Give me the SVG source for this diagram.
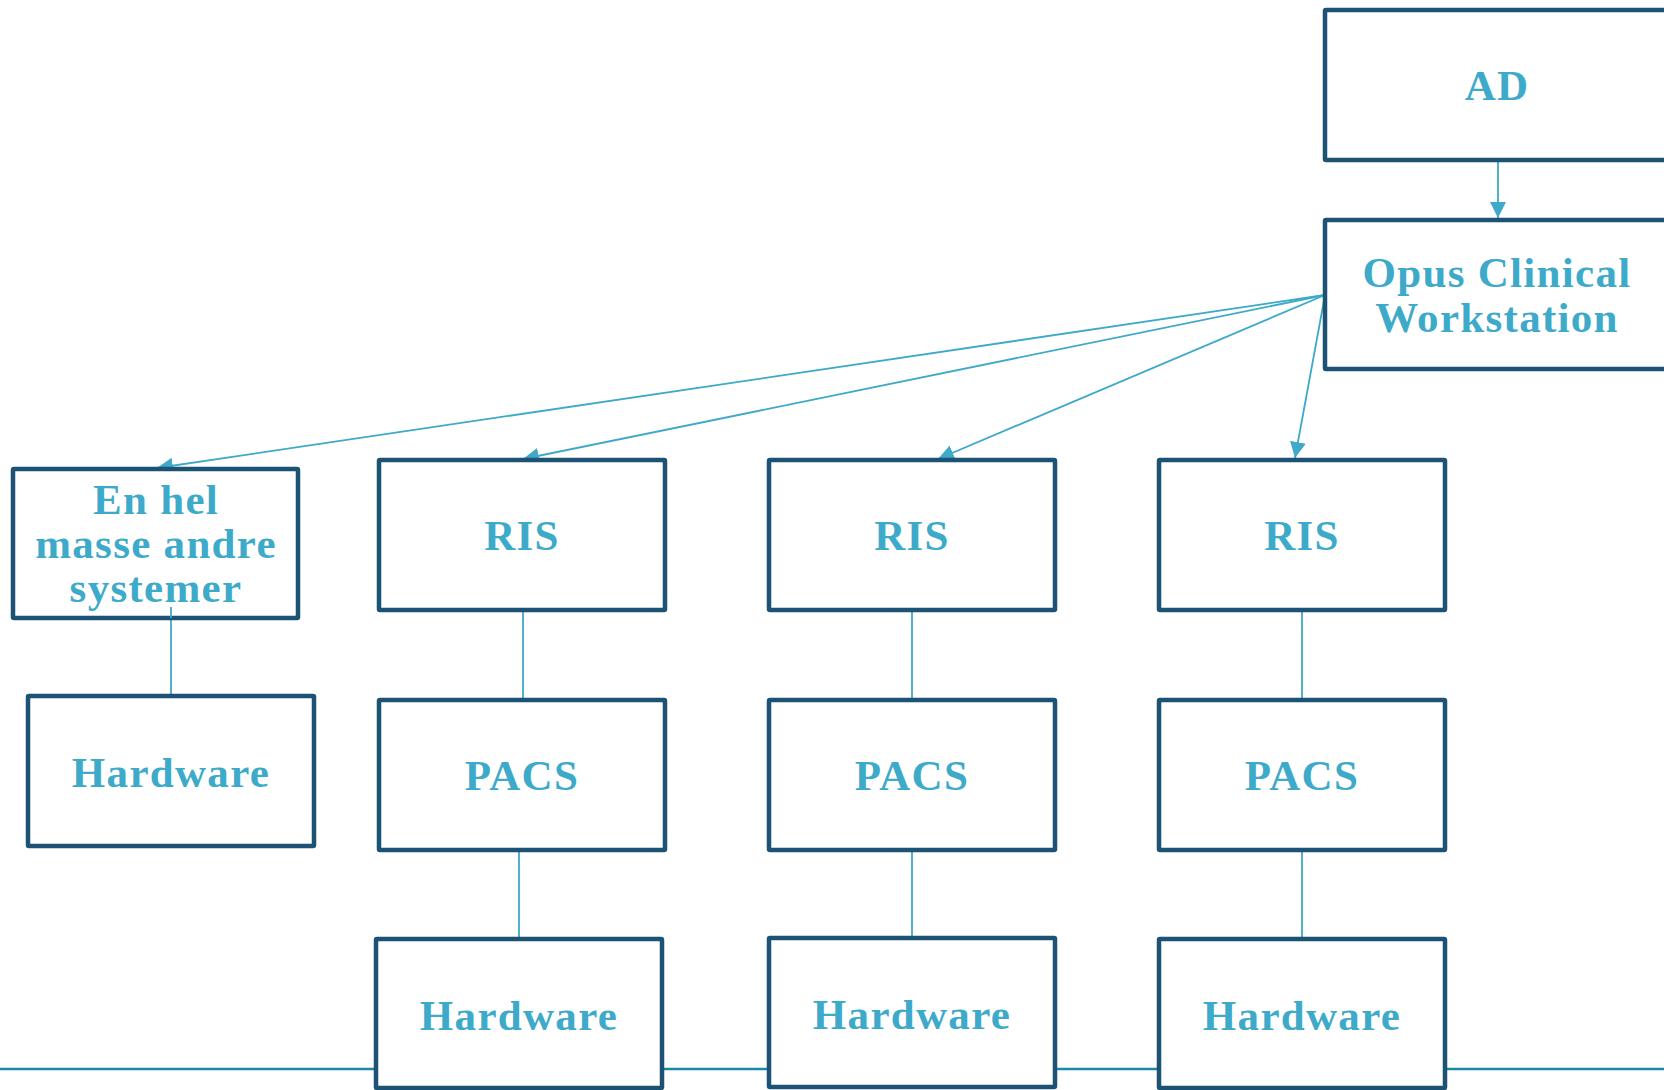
<svg xmlns="http://www.w3.org/2000/svg" width="1664" height="1090" viewBox="0 0 1664 1090">
<style>
.box{fill:#ffffff;stroke:#1c5273;stroke-width:4.5}
.lbl{font-family:"Liberation Serif","Times New Roman",serif;font-weight:bold;font-size:43px;fill:#3eaac9;text-anchor:middle;letter-spacing:1.3px}
.con{stroke:#3ea9c8;stroke-width:1.8;fill:none}
.base{stroke:#1a8aa2;stroke-width:2.5}
</style>
<defs>
<marker id="ah" markerUnits="userSpaceOnUse" markerWidth="17" markerHeight="17" refX="16" refY="8" orient="auto" viewBox="0 0 17 17">
<path d="M0,0 L16,8 L0,16 z" fill="#3ea9c8"/>
</marker>
</defs>
<rect width="1664" height="1090" fill="#ffffff"/>
<line class="base" x1="0" y1="1069" x2="1664" y2="1069"/>
<g id="connectors">
<line class="con" x1="1498" y1="160" x2="1498" y2="218" marker-end="url(#ah)"/>
<line class="con" x1="1325" y1="295" x2="157" y2="468" marker-end="url(#ah)"/>
<line class="con" x1="1325" y1="295" x2="523" y2="459" marker-end="url(#ah)"/>
<line class="con" x1="1325" y1="295" x2="938" y2="459" marker-end="url(#ah)"/>
<line class="con" x1="1325" y1="295" x2="1295" y2="458" marker-end="url(#ah)"/>
<line class="con" x1="171" y1="607" x2="171" y2="696"/>
<line class="con" x1="523" y1="610" x2="523" y2="700"/>
<line class="con" x1="519" y1="850" x2="519" y2="939"/>
<line class="con" x1="912" y1="610" x2="912" y2="700"/>
<line class="con" x1="912" y1="850" x2="912" y2="938"/>
<line class="con" x1="1302" y1="610" x2="1302" y2="700"/>
<line class="con" x1="1302" y1="850" x2="1302" y2="939"/>
</g>
<g id="ad"><rect class="box" x="1325" y="10" width="400" height="150" rx="1"/><text class="lbl" x="1497" y="100">AD</text></g>
<g id="opus"><rect class="box" x="1325" y="220" width="400" height="149" rx="1"/><text class="lbl" x="1497" y="287">Opus Clinical</text><text class="lbl" x="1497" y="332">Workstation</text></g>
<g id="andre"><rect class="box" x="13" y="469" width="285" height="149" rx="1"/><text class="lbl" x="156" y="514">En hel</text><text class="lbl" x="156" y="558">masse andre</text><text class="lbl" x="156" y="602">systemer</text></g>
<line class="con" x1="171" y1="607" x2="171" y2="618"/>
<g id="hw0"><rect class="box" x="28" y="696" width="286" height="150" rx="1"/><text class="lbl" x="171" y="787">Hardware</text></g>
<g id="ris1"><rect class="box" x="379" y="460" width="286" height="150" rx="1"/><text class="lbl" x="522" y="550">RIS</text></g>
<g id="pacs1"><rect class="box" x="379" y="700" width="286" height="150" rx="1"/><text class="lbl" x="522" y="790">PACS</text></g>
<g id="hw1"><rect class="box" x="376" y="939" width="286" height="149" rx="1"/><text class="lbl" x="519" y="1030">Hardware</text></g>
<g id="ris2"><rect class="box" x="769" y="460" width="286" height="150" rx="1"/><text class="lbl" x="912" y="550">RIS</text></g>
<g id="pacs2"><rect class="box" x="769" y="700" width="286" height="150" rx="1"/><text class="lbl" x="912" y="790">PACS</text></g>
<g id="hw2"><rect class="box" x="769" y="938" width="286" height="149" rx="1"/><text class="lbl" x="912" y="1029">Hardware</text></g>
<g id="ris3"><rect class="box" x="1159" y="460" width="286" height="150" rx="1"/><text class="lbl" x="1302" y="550">RIS</text></g>
<g id="pacs3"><rect class="box" x="1159" y="700" width="286" height="150" rx="1"/><text class="lbl" x="1302" y="790">PACS</text></g>
<g id="hw3"><rect class="box" x="1159" y="939" width="286" height="149" rx="1"/><text class="lbl" x="1302" y="1030">Hardware</text></g>
</svg>
